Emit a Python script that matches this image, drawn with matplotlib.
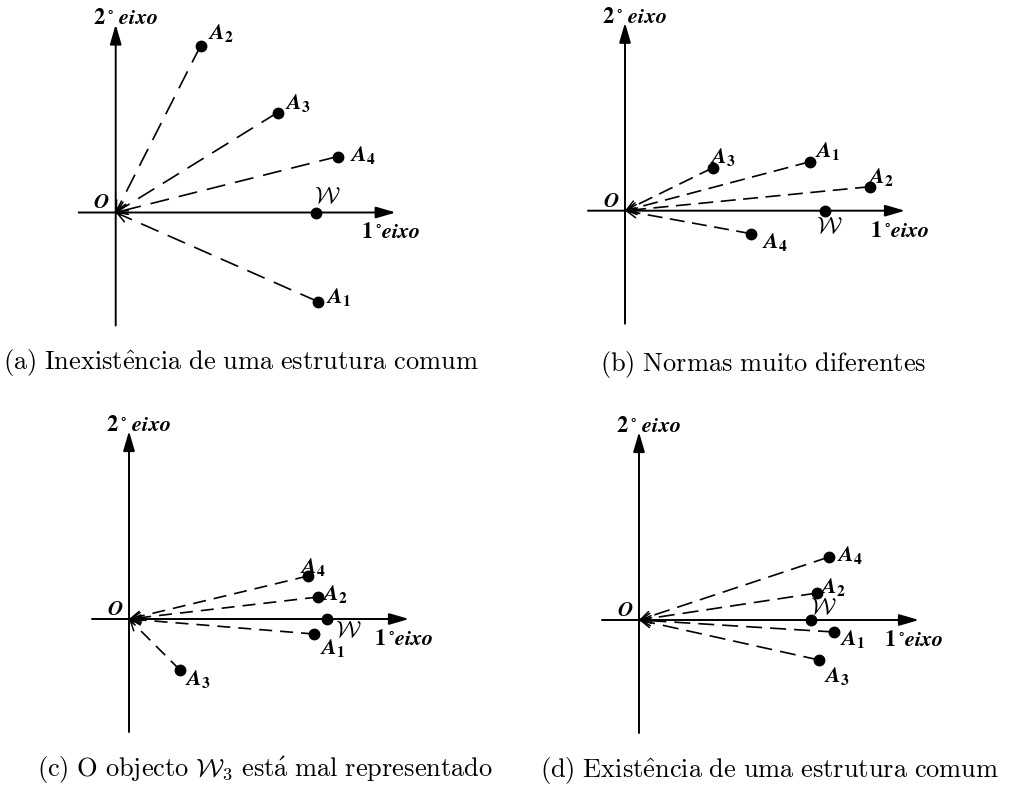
import numpy as np
import matplotlib.pyplot as plt

plt.rcParams['mathtext.fontset'] = 'cm'

W_PX, H_PX = 1013, 785

# objectos A1..A4 e compromisso W em cada caso (1º eixo, 2º eixo)
a_x = [2.02, 0.85, 1.62, 2.22]
a_y = [-0.89, 1.67, 1.00, 0.56]
a_w = 2.00

b_x = [1.85, 2.45, 0.88, 1.26]
b_y = [0.49, 0.24, 0.43, -0.23]
b_w = 2.00

c_x = [1.85, 1.89, 0.51, 1.79]
c_y = [-0.15, 0.22, -0.51, 0.43]
c_w = 1.98

d_x = [1.95, 1.78, 1.80, 1.90]
d_y = [-0.12, 0.27, -0.40, 0.63]
d_w = 1.72

names = ['1', '2', '3', '4']

captions = [
    r'$\mathrm{(a)\ Inexist\hat{e}ncia\ de\ uma\ estrutura\ comum}$',
    r'$\mathrm{(b)\ Normas\ muito\ diferentes}$',
    r'$\mathrm{(c)\ O\ objecto\ }\mathcal{W}_3\mathrm{\ est\acute{a}\ mal\ representado}$',
    r'$\mathrm{(d)\ Exist\hat{e}ncia\ de\ uma\ estrutura\ comum}$',
]

# layout: origin of each panel in pixels, label offsets in pixels (dx left edge, dy centre, +down)
origins = [(115.7, 212.5), (625.0, 210.7), (129.0, 619.0), (639.0, 620.0)]
lab_off = [
    [(8, -5), (7, -12), (7, -9), (12, -1)],
    [(5, -11), (-2, -10), (-3, -11), (11, 8)],
    [(6, 14), (4, -3), (5, 9), (-8, -9)],
    [(6, 7), (3, -6), (5, 16), (8, -2)],
]
w_off = [(-2, -16), (-9, 15), (8, 11), (-1, -13)]
cap_pos = [(241, 363), (763, 365), (265, 770), (770, 770)]
dash_style = [(11.4, 6), (9, 4.5), (7.8, 4.8), (9.6, 4.8)]

panels = [(a_x, a_y, a_w), (b_x, b_y, b_w), (c_x, c_y, c_w), (d_x, d_y, d_w)]

fig = plt.figure(figsize=(W_PX / 100, H_PX / 100), dpi=100)

SC = 100.0  # pixels per unit
for k, (xs, ys, w) in enumerate(panels):
    ox, oy = origins[k]
    left, right, top, bottom = ox - 60, ox + 340, oy - 210, oy + 130
    ax = fig.add_axes([left / W_PX, 1 - bottom / H_PX, (right - left) / W_PX, (bottom - top) / H_PX])
    ax.set_xlim(-60 / SC, 340 / SC)
    ax.set_ylim(-130 / SC, 210 / SC)
    ax.axis('off')

    # eixos
    ap = dict(arrowstyle='-|>,head_length=1.2,head_width=0.35', mutation_scale=10,
              lw=1.4, color='k', shrinkA=0, shrinkB=0)
    ax.annotate('', xy=(2.80, 0), xytext=(-0.37, 0), arrowprops=ap)
    ax.annotate('', xy=(0, 1.88), xytext=(0, -1.13), arrowprops=ap)

    # objectos
    for i in range(4):
        x, y = xs[i], ys[i]
        ax.plot([x, 0], [y, 0], color='k', lw=1.2, dashes=dash_style[k])
        n = np.hypot(x, y)
        ax.annotate('', xy=(0, 0), xytext=(0.06 * x / n, 0.06 * y / n),
                    arrowprops=dict(arrowstyle='->,head_length=0.6,head_width=0.3',
                                    mutation_scale=12, lw=1.1, color='k',
                                    shrinkA=0, shrinkB=0))
        ax.plot(x, y, 'o', color='k', ms=7.5)
        dx, dy = lab_off[k][i]
        ax.annotate(r'$\mathbfit{A}_{\mathbf{%s}}$' % names[i], xy=(x, y),
                    xytext=(dx * 0.72, -dy * 0.72), textcoords='offset points',
                    ha='left', va='center', fontsize=16, math_fontfamily='stix')

    ax.plot(w, 0, 'o', color='k', ms=7.5)
    dx, dy = w_off[k]
    ax.annotate(r'$\mathcal{W}$', xy=(w, 0), xytext=(dx * 0.72, -dy * 0.72),
                textcoords='offset points', ha='left', va='center', fontsize=17)

    ax.annotate(r'$\mathbfit{O}$', xy=(0, 0), xytext=(-6 * 0.72, 10 * 0.72),
                textcoords='offset points', ha='right', va='center', fontsize=15,
                math_fontfamily='stix')
    ax.annotate(r'$\mathbf{2}\,^{\circ}\ \mathbfit{eixo}$', xy=(0, 1.88),
                xytext=(-23 * 0.72, 6 * 0.72), textcoords='offset points',
                ha='left', va='center', fontsize=16, math_fontfamily='stix')
    ax.annotate(r'$\mathbf{1}\,^{\circ}\mathbfit{eixo}$', xy=(2.80, 0),
                xytext=(-35 * 0.72, -20 * 0.72), textcoords='offset points',
                ha='left', va='center', fontsize=16, math_fontfamily='stix')

for k, cap in enumerate(captions):
    cx, cy = cap_pos[k]
    fig.text(cx / W_PX, 1 - cy / H_PX, cap, ha='center', va='center', fontsize=19)

fig.savefig('out.png', dpi=100)
